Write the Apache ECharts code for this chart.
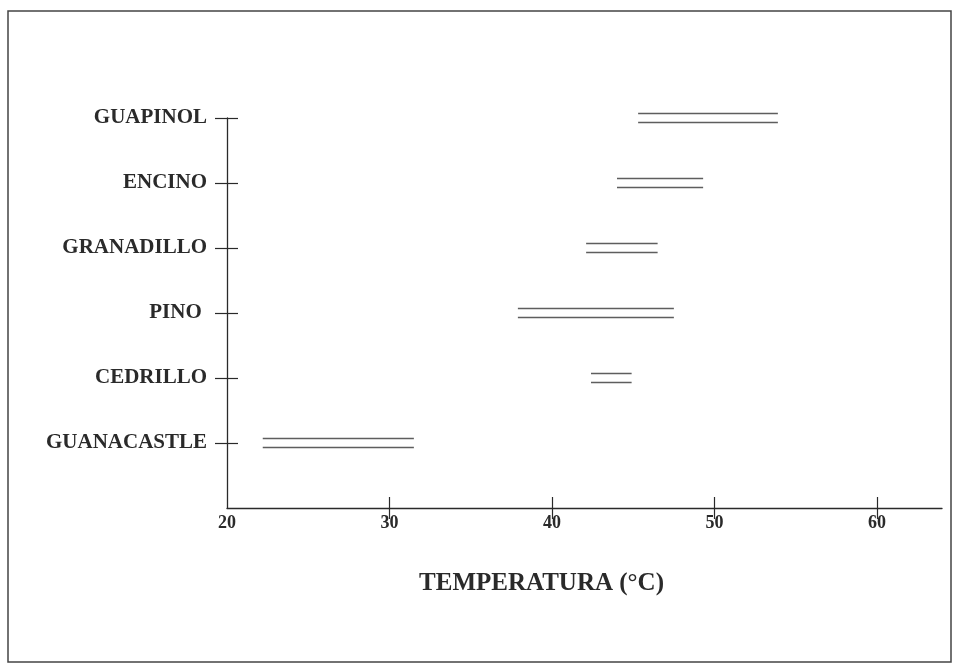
<!DOCTYPE html>
<html>
<head>
<meta charset="utf-8">
<script src="https://cdn.jsdelivr.net/npm/echarts@6/dist/echarts.min.js"></script>
<style>
  html, body { margin: 0; padding: 0; background: #fff; }
  #chart { width: 956px; height: 667px; }
</style>
</head>
<body>
<div id="chart"></div>
<script>
// Species, listed bottom to top along the vertical axis
const species = ['GUANACASTLE', 'CEDRILLO', 'PINO ', 'GRANADILLO', 'ENCINO', 'GUAPINOL'];
// Temperature range (°C) for each species, same order
const rangeStart = [22.2, 42.4, 37.9, 42.1, 44.0, 45.3];
const rangeEnd   = [31.5, 44.9, 47.5, 46.5, 49.3, 53.9];
// Temperature axis ticks
const tempTicks = [20, 30, 40, 50, 60];
const axisTitle = 'TEMPERATURA (°C)';

const SERIF = '"Liberation Serif", "Times New Roman", serif';
const INK = '#2a2a2a';

const rangeData = species.map((s, i) => [rangeStart[i], rangeEnd[i], i + 1]);
const rowTicks = species.map((s, i) => i + 1);

const chart = echarts.init(document.getElementById('chart'), null, { renderer: 'canvas' });

const xCommon = {
  type: 'value', min: 20, max: 64, interval: 10,
  splitLine: { show: false }
};
const yCommon = {
  type: 'value', min: 0, max: species.length, interval: 1,
  splitLine: { show: false }
};

chart.setOption({
  backgroundColor: '#ffffff',
  animation: false,
  grid: { left: 227, right: 14, top: 118, bottom: 159 },
  xAxis: [
    Object.assign({}, xCommon, {
      position: 'bottom',
      axisLine: { show: true, lineStyle: { color: INK, width: 1.3 } },
      axisTick: { show: true, length: 11, inside: false, customValues: tempTicks.slice(1), lineStyle: { color: INK, width: 1.2 } },
      axisLabel: {
        show: true, margin: 6, customValues: tempTicks,
        fontFamily: SERIF, fontWeight: 'bold', fontSize: 18, color: INK
      },
      name: axisTitle, nameLocation: 'middle', nameGap: 63,
      nameTextStyle: { fontFamily: SERIF, fontWeight: 'bold', fontSize: 25, color: INK, padding: [0, 86, 0, 0] }
    }),
    Object.assign({}, xCommon, {
      position: 'bottom',
      axisLine: { show: false },
      axisTick: { show: true, length: 11, inside: true, customValues: tempTicks.slice(1), lineStyle: { color: INK, width: 1.2 } },
      axisLabel: { show: false }
    })
  ],
  yAxis: [
    Object.assign({}, yCommon, {
      position: 'left',
      axisLine: { show: true, lineStyle: { color: INK, width: 1.3 } },
      axisTick: { show: true, length: 12, inside: false, customValues: rowTicks, lineStyle: { color: INK, width: 1.2 } },
      axisLabel: {
        show: true, margin: 20, customValues: rowTicks,
        formatter: v => species[v - 1] || '',
        fontFamily: SERIF, fontWeight: 'bold', fontSize: 21, color: INK
      }
    }),
    Object.assign({}, yCommon, {
      position: 'left',
      axisLine: { show: false },
      axisTick: { show: true, length: 11, inside: true, customValues: rowTicks, lineStyle: { color: INK, width: 1.2 } },
      axisLabel: { show: false }
    })
  ],
  series: [{
    type: 'custom',
    xAxisIndex: 0,
    yAxisIndex: 0,
    data: rangeData,
    renderItem: function (params, api) {
      const y = api.value(2);
      const a = api.coord([api.value(0), y]);
      const b = api.coord([api.value(1), y]);
      const gap = 4.5;
      const style = { stroke: '#5e5e5e', lineWidth: 1.7 };
      return {
        type: 'group',
        children: [
          { type: 'line', shape: { x1: a[0], y1: a[1] - gap, x2: b[0], y2: b[1] - gap }, style: style },
          { type: 'line', shape: { x1: a[0], y1: a[1] + gap, x2: b[0], y2: b[1] + gap }, style: style }
        ]
      };
    }
  }],
  graphic: [{
    type: 'rect',
    shape: { x: 8, y: 11, width: 943, height: 651 },
    style: { fill: 'none', stroke: '#444', lineWidth: 1.5 },
    silent: true
  }]
});
</script>
</body>
</html>
